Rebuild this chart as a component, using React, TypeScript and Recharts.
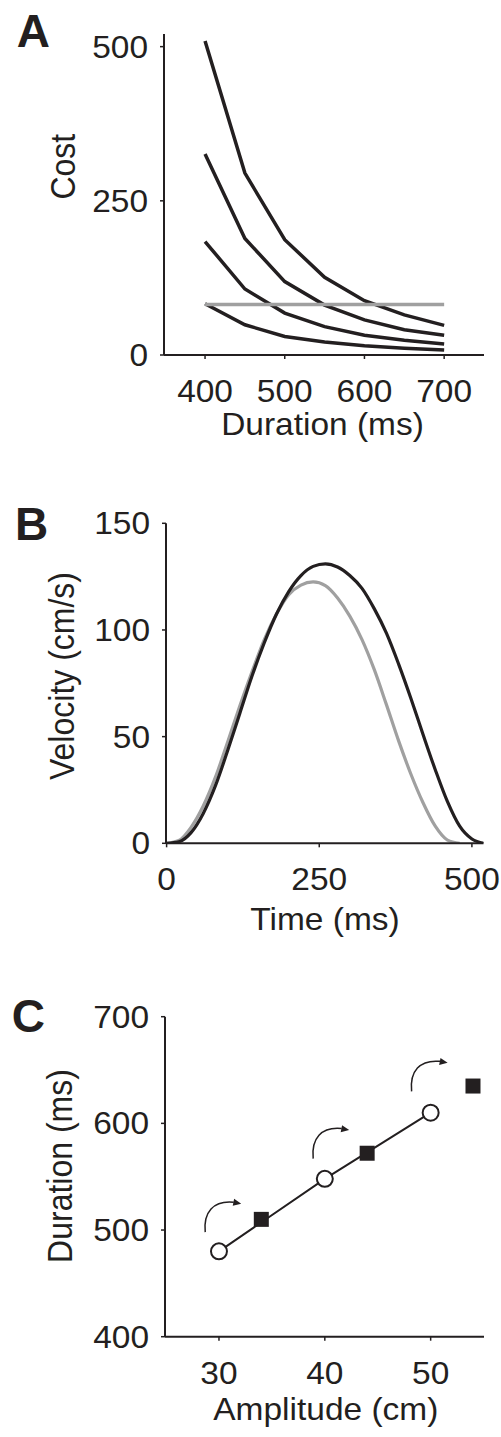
import { LineChart, Line, ScatterChart, Scatter, XAxis, YAxis } from "recharts";

const FONT = '"Liberation Sans", Arial, Helvetica, sans-serif';
const INK = "#231f20";
const GREY = "#a0a0a0";

// Panel A – cost vs duration
const durations = [400, 450, 500, 550, 600, 650, 700];
const cost1 = [509, 295, 187, 126, 88, 65, 48];
const cost2 = [326, 189, 119, 81, 57, 41, 32];
const cost3 = [184, 107, 68, 46, 32, 24, 18];
const cost4 = [83, 49, 30, 21, 15, 11, 8];
const costRef = [82, 82, 82, 82, 82, 82, 82];
const costTicksX = [400, 500, 600, 700];
const costTicksY = [0, 250, 500];

// Panel B – velocity profiles
const timeBlack = [0, 20, 40, 60, 80, 100, 120, 140, 160, 180, 200, 220, 240, 260, 280, 300, 320, 340, 360, 380, 400, 420, 440, 460, 480, 500, 520];
const velBlack = [0, 0.7, 5, 14, 27, 43.5, 61, 78.5, 94, 107.5, 118, 125.5, 129.8, 131, 129.5, 125.5, 119.5, 110, 98.5, 84, 68, 51, 34.5, 19.5, 8, 2, 0];
const timeGrey = [0, 20, 40, 60, 80, 100, 120, 140, 160, 180, 200, 220, 240, 260, 280, 300, 320, 340, 360, 380, 400, 420, 440, 460, 480];
const velGrey = [0, 1.3, 7.5, 17.5, 31, 47.5, 64.5, 80.5, 95.5, 107.5, 116.5, 121, 122.5, 120.8, 115, 106.5, 95.5, 81.5, 65, 48, 32.5, 19, 8, 1.5, 0];
const timeTicks = [0, 250, 500];
const velTicks = [0, 50, 100, 150];

// Panel C – duration vs amplitude
const ampOpen = [30, 40, 50];
const durOpen = [480, 548, 610];
const ampFilled = [34, 44, 54];
const durFilled = [510, 572, 635];
const arrowAmp = [28.7, 38.9, 48.2];
const arrowDur = [498, 567, 630];
const ampTicks = [30, 40, 50];
const durTicks = [400, 500, 600, 700];

const costData = durations.map((d, i) => ({
  d,
  c1: cost1[i],
  c2: cost2[i],
  c3: cost3[i],
  c4: cost4[i],
  ref: costRef[i],
}));
const blackData = timeBlack.map((t, i) => ({ t, v: velBlack[i] }));
const greyData = timeGrey.map((t, i) => ({ t, v: velGrey[i] }));
const openData = ampOpen.map((x, i) => ({ x, y: durOpen[i] }));
const filledData = ampFilled.map((x, i) => ({ x, y: durFilled[i] }));
const arrowData = arrowAmp.map((x, i) => ({ x, y: arrowDur[i] }));

function XTick(props: any) {
  const { x, y, payload } = props;
  return (
    <g transform={`translate(${x},${y + 43})`}>
      <text transform="scale(1.08,1)" textAnchor="middle" fontFamily={FONT} fontSize={31} fill={INK}>
        {payload.value}
      </text>
    </g>
  );
}

function YTick(props: any) {
  const { x, y, payload } = props;
  return (
    <g transform={`translate(${x},${y + 11})`}>
      <text transform="scale(1.08,1)" textAnchor="end" fontFamily={FONT} fontSize={31} fill={INK}>
        {payload.value}
      </text>
    </g>
  );
}

function OpenCircle(props: any) {
  const { cx, cy } = props;
  return <circle cx={cx} cy={cy} r={8} fill="#fff" stroke={INK} strokeWidth={2} />;
}

function FilledSquare(props: any) {
  const { cx, cy } = props;
  return <rect x={cx - 7.5} y={cy - 7.5} width={15} height={15} fill={INK} />;
}

function CurvedArrow(props: any) {
  const { cx, cy } = props;
  return (
    <g transform={`translate(${cx},${cy})`}>
      <path d="M0,0 C-2,-20 8,-32 28.5,-30" fill="none" stroke={INK} strokeWidth={1.5} />
      <path d="M36,-28.5 L27.5,-26.4 L28.9,-33.4 Z" fill={INK} />
    </g>
  );
}

const axisLine = { stroke: INK, strokeWidth: 2 };
const tickLine = { stroke: INK, strokeWidth: 1.5 };

function Label({ x, y, text, rotate = false, size = 31 }: { x: number; y: number; text: string; rotate?: boolean; size?: number }) {
  const tf = rotate ? `translate(${x},${y}) scale(1.08,1) rotate(-90)` : `translate(${x},${y}) scale(1.08,1)`;
  return (
    <text transform={tf} textAnchor="middle" fontFamily={FONT} fontSize={size} fill={INK}>
      {text}
    </text>
  );
}

function PanelLetter({ x, y, text }: { x: number; y: number; text: string }) {
  return (
    <text x={x} y={y} fontFamily={FONT} fontSize={46} fontWeight="bold" fill={INK}>
      {text}
    </text>
  );
}

export default function App() {
  return (
    <div style={{ position: "absolute", left: 0, top: 0, width: 501, height: 1437, background: "#fff" }}>
      <div style={{ position: "absolute", left: 0, top: 0 }}>
        <LineChart width={501} height={460} data={costData} margin={{ top: 34, right: 17, left: 104, bottom: 65 }}>
          <XAxis
            dataKey="d"
            type="number"
            domain={[348.5, 750]}
            allowDataOverflow
            ticks={costTicksX}
            interval={0}
            height={40}
            tickSize={4}
            tickMargin={0}
            axisLine={axisLine}
            tickLine={tickLine}
            tick={<XTick />}
          />
          <YAxis
            type="number"
            domain={[0, 520.5]}
            allowDataOverflow
            ticks={costTicksY}
            interval={0}
            width={60}
            tickSize={4}
            tickMargin={12}
            axisLine={axisLine}
            tickLine={tickLine}
            tick={<YTick />}
          />
          <Line type="linear" dataKey="c1" stroke={INK} strokeWidth={3.5} dot={false} isAnimationActive={false} />
          <Line type="linear" dataKey="c2" stroke={INK} strokeWidth={3.5} dot={false} isAnimationActive={false} />
          <Line type="linear" dataKey="c3" stroke={INK} strokeWidth={3.5} dot={false} isAnimationActive={false} />
          <Line type="linear" dataKey="c4" stroke={INK} strokeWidth={3.5} dot={false} isAnimationActive={false} />
          <Line type="linear" dataKey="ref" stroke={GREY} strokeWidth={3.5} dot={false} isAnimationActive={false} />
        </LineChart>
      </div>

      <div style={{ position: "absolute", left: 0, top: 480 }}>
        <LineChart width={501} height={460} margin={{ top: 43.3, right: 17.5, left: 106, bottom: 56.7 }}>
          <XAxis
            dataKey="t"
            type="number"
            domain={[-1, 519]}
            allowDataOverflow
            ticks={timeTicks}
            interval={0}
            height={40}
            tickSize={4}
            tickMargin={0}
            axisLine={axisLine}
            tickLine={tickLine}
            tick={<XTick />}
          />
          <YAxis
            type="number"
            domain={[0, 150]}
            allowDataOverflow
            ticks={velTicks}
            interval={0}
            width={60}
            tickSize={4}
            tickMargin={12}
            axisLine={axisLine}
            tickLine={tickLine}
            tick={<YTick />}
          />
          <Line data={greyData} type="monotone" dataKey="v" stroke={GREY} strokeWidth={3.2} dot={false} isAnimationActive={false} />
          <Line data={blackData} type="monotone" dataKey="v" stroke={INK} strokeWidth={3.2} dot={false} isAnimationActive={false} />
        </LineChart>
      </div>

      <div style={{ position: "absolute", left: 0, top: 980 }}>
        <ScatterChart width={501} height={457} margin={{ top: 36.7, right: 17, left: 105, bottom: 60.3 }}>
          <XAxis
            dataKey="x"
            type="number"
            domain={[24.9, 55.04]}
            allowDataOverflow
            ticks={ampTicks}
            interval={0}
            height={40}
            tickSize={4}
            tickMargin={0}
            axisLine={axisLine}
            tickLine={tickLine}
            tick={<XTick />}
          />
          <YAxis
            dataKey="y"
            type="number"
            domain={[400, 700]}
            allowDataOverflow
            ticks={durTicks}
            interval={0}
            width={60}
            tickSize={4}
            tickMargin={12}
            axisLine={axisLine}
            tickLine={tickLine}
            tick={<YTick />}
          />
          <Scatter data={arrowData} shape={<CurvedArrow />} isAnimationActive={false} />
          <Scatter
            data={openData}
            line={{ stroke: INK, strokeWidth: 2 }}
            shape={<OpenCircle />}
            isAnimationActive={false}
          />
          <Scatter data={filledData} shape={<FilledSquare />} isAnimationActive={false} />
        </ScatterChart>
      </div>

      <svg width={501} height={1437} style={{ position: "absolute", left: 0, top: 0, pointerEvents: "none" }}>
        <PanelLetter x={16.7} y={46.7} text="A" />
        <PanelLetter x={15} y={540} text="B" />
        <PanelLetter x={11.7} y={1031.5} text="C" />
        <Label x={75} y={166.7} text="Cost" rotate size={32} />
        <Label x={322.5} y={435} text="Duration (ms)" />
        <Label x={73.5} y={676} text="Velocity (cm/s)" rotate size={32} />
        <Label x={325} y={930} text="Time (ms)" />
        <Label x={72} y={1166} text="Duration (ms)" rotate size={32} />
        <Label x={325.8} y={1420} text="Amplitude (cm)" />
      </svg>
    </div>
  );
}
